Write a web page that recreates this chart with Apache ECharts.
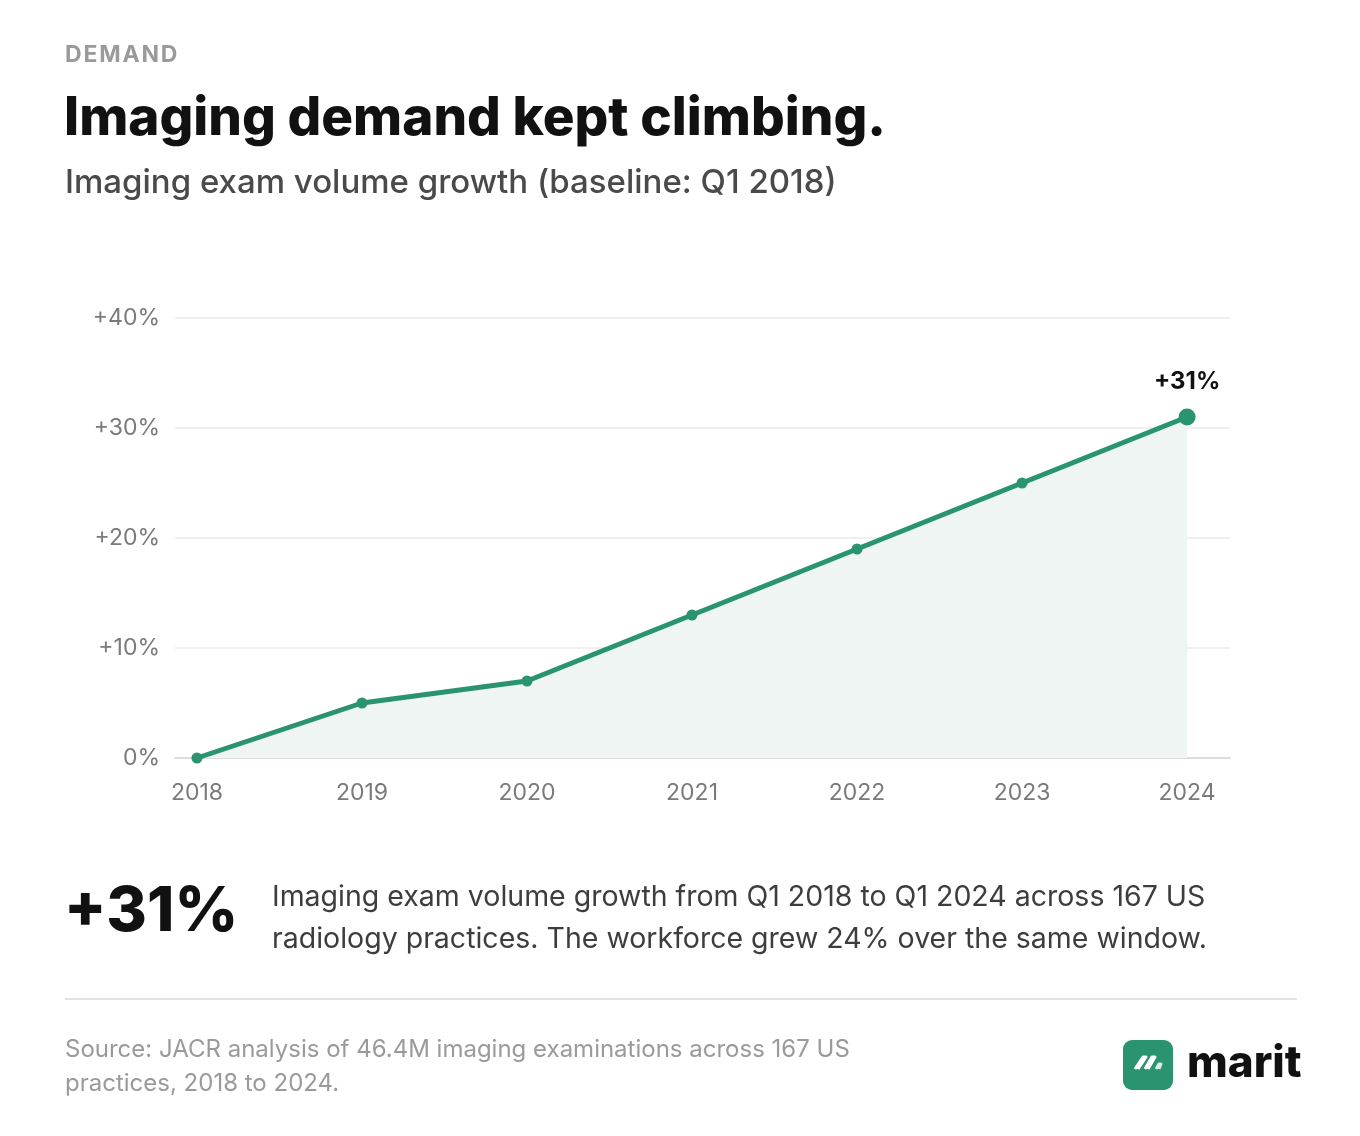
<!DOCTYPE html>
<html>
<head>
<meta charset="utf-8">
<script src="https://cdn.jsdelivr.net/npm/echarts@6/dist/echarts.min.js"></script>
<style>
  html, body { margin: 0; padding: 0; background: #fff; }
  #chart { width: 1360px; height: 1136px; }
</style>
</head>
<body>
<div id="chart"></div>
<script>
// data
var years = ['2018', '2019', '2020', '2021', '2022', '2023', '2024'];
var growth = [0, 5, 7, 13, 19, 25, 31];
var yTicks = [0, 10, 20, 30, 40];

var green = '#2a9470';
var bodyFont = 'Inter, "Noto Sans", sans-serif';
var headFont = 'Inter, Lato, sans-serif';

var points = [];
for (var i = 0; i < growth.length; i++) {
    points.push([i, growth[i]]);
}

var myChart = echarts.init(document.getElementById('chart'), null, { renderer: 'canvas' });

var option = {
    backgroundColor: '#ffffff',
    animation: false,
    grid: { left: 175, right: 130, top: 318, bottom: 378 },
    xAxis: {
        type: 'value',
        min: -0.133,
        max: 6.26,
        splitLine: { show: false },
        axisTick: { show: false },
        axisLine: { show: true, lineStyle: { color: '#dddddd', width: 2 } },
        axisLabel: {
            customValues: [0, 1, 2, 3, 4, 5, 6],
            formatter: function (v) { return years[Math.round(v)]; },
            color: '#7a7a7a',
            fontFamily: bodyFont,
            fontSize: 23,
            margin: 24
        }
    },
    yAxis: {
        type: 'value',
        min: yTicks[0],
        max: yTicks[yTicks.length - 1],
        interval: 10,
        axisLine: { show: false },
        axisTick: { show: false },
        splitLine: { lineStyle: { color: '#efefef', width: 2 } },
        axisLabel: {
            formatter: function (v) { return v === 0 ? '0%' : '+' + v + '%'; },
            color: '#7a7a7a',
            fontFamily: bodyFont,
            fontSize: 23,
            margin: 15
        }
    },
    series: [{
        type: 'line',
        data: points.map(function (p, idx) {
            if (idx === points.length - 1) {
                return {
                    value: p,
                    symbolSize: 17,
                    label: {
                        show: true,
                        position: 'top',
                        distance: 15,
                        formatter: '+' + p[1] + '%',
                        color: '#111111',
                        fontWeight: 'bold',
                        fontSize: 24,
                        fontFamily: bodyFont
                    }
                };
            }
            return p;
        }),
        symbol: 'circle',
        symbolSize: 11,
        itemStyle: { color: green },
        lineStyle: { color: green, width: 5 },
        areaStyle: { color: '#eef5f2', opacity: 1 },
        z: 3
    }],
    graphic: [
        { type: 'text', left: 65, top: 44, style: { text: 'D\u200AE\u200AM\u200AA\u200AN\u200AD', fill: '#9a9a9a', font: 'bold 23px ' + bodyFont } },
        { type: 'text', left: 64, top: 93, style: { text: 'Imaging demand kept climbing.', fill: '#111111', font: '800 53px ' + headFont } },
        { type: 'text', left: 65, top: 167, style: { text: 'Imaging exam volume growth (baseline: Q1 2018)', fill: '#4a4a4a', font: '500 33px ' + bodyFont } },
        { type: 'text', left: 64, top: 881, style: { text: '+31%', fill: '#111111', font: '800 62px ' + headFont } },
        { type: 'text', left: 272, top: 876, style: {
            text: 'Imaging exam volume growth from Q1 2018 to Q1 2024 across 167 US\nradiology practices. The workforce grew 24% over the same window.',
            fill: '#3d3d3d', font: '28.5px ' + bodyFont, lineHeight: 42 } },
        { type: 'line', shape: { x1: 65, y1: 999, x2: 1297, y2: 999 }, style: { stroke: '#e3e3e3', lineWidth: 2 } },
        { type: 'text', left: 65, top: 1033, style: {
            text: 'Source: JACR analysis of 46.4M imaging examinations across 167 US\npractices, 2018 to 2024.',
            fill: '#9a9a9a', font: '24px ' + bodyFont, lineHeight: 34 } },
        { type: 'rect', shape: { x: 1123, y: 1040, width: 50, height: 50, r: 9 }, style: { fill: green } },
        { type: 'polyline', shape: { points: [[1135, 1069], [1143, 1057], [1146, 1057], [1138, 1069]] }, style: { fill: '#ffffff', stroke: '#ffffff', lineWidth: 3, lineJoin: 'round' } },
        { type: 'polyline', shape: { points: [[1145, 1069], [1152, 1057], [1155, 1057], [1148, 1069]] }, style: { fill: '#ffffff', stroke: '#ffffff', lineWidth: 3, lineJoin: 'round' } },
        { type: 'polyline', shape: { points: [[1156, 1069], [1159, 1064], [1161, 1064], [1159, 1069]] }, style: { fill: '#d8eee5', stroke: '#d8eee5', lineWidth: 3, lineJoin: 'round' } },
        { type: 'text', left: 1187, top: 1042, style: { text: 'marit', fill: '#111111', font: '800 44px ' + headFont } }
    ]
};

myChart.setOption(option);
</script>
</body>
</html>
